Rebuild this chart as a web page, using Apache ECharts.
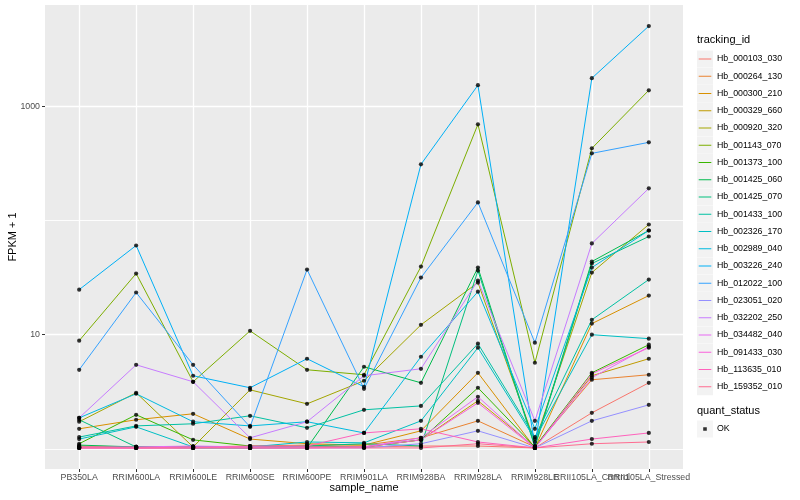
<!DOCTYPE html>
<html><head><meta charset="utf-8">
<script src="https://cdn.jsdelivr.net/npm/echarts@6/dist/echarts.min.js"></script>
<style>html,body{margin:0;padding:0;background:#fff}#c{width:800px;height:500px}</style>
</head><body><div id="c"></div>
<script>
// x categories (sample_name)
const categories = ['PB350LA','RRIM600LA','RRIM600LE','RRIM600SE','RRIM600PE','RRIM901LA','RRIM928BA','RRIM928LA','RRIM928LE','RRII105LA_Control','RRII105LA_Stressed'];
// legend entries (tracking_id)
const trackingIds = ['Hb_000103_030','Hb_000264_130','Hb_000300_210','Hb_000329_660','Hb_000920_320','Hb_001143_070','Hb_001373_100','Hb_001425_060','Hb_001425_070','Hb_001433_100','Hb_002326_170','Hb_002989_040','Hb_003226_240','Hb_012022_100','Hb_023051_020','Hb_032202_250','Hb_034482_040','Hb_091433_030','Hb_113635_010','Hb_159352_010'];
const colors = ['#F8766D','#EA8331','#D89000','#C09B00','#A3A500','#7CAE00','#39B600','#00BB4E','#00BF7D','#00C1A3','#00BFC4','#00BAE0','#00B0F6','#35A2FF','#9590FF','#C77CFF','#E76BF3','#FA62DB','#FF62BC','#FF6C91'];
// y tick labels (major breaks) and minor breaks
const yTickLabels = [10, 1000];
const yMinorBreaks = [1, 100];
// FPKM + 1 values, one array per tracking_id (order of categories)
const hb_000103_030 = [1.04,1.02,1.02,1.02,1.04,1.04,1.06,1.06,1.02,2.07,3.79];
const hb_000264_130 = [1.06,1.04,1.04,1.06,1.08,1.08,1.25,1.76,1.04,4.03,4.46];
const hb_000300_210 = [1.50,1.80,2.03,1.22,1.11,1.08,1.44,4.64,1.02,12.5,22.0];
const hb_000329_660 = [1.04,1.04,1.04,1.04,1.06,1.04,1.20,2.64,1.04,4.37,6.16];
const hb_000920_320 = [1.73,3.10,1.04,3.29,2.48,3.95,12.2,28.6,1.15,35.0,92.2];
const hb_001143_070 = [8.86,34.3,3.87,10.8,4.93,4.46,39.5,695,5.68,428,1380];
const hb_001373_100 = [1.11,1.99,1.20,1.06,1.04,1.04,1.20,3.43,1.04,4.64,8.17];
const hb_001425_060 = [1.08,1.04,1.04,1.02,1.02,5.24,3.79,38.7,1.06,43.7,81.7];
const hb_001425_070 = [1.80,1.04,1.02,1.02,1.06,1.11,1.06,36.4,1.04,42.0,72.4];
const hb_001433_100 = [1.27,1.59,1.66,1.95,1.53,2.20,2.38,8.34,1.27,13.5,30.4];
const hb_002326_170 = [1.22,1.56,1.04,1.04,1.15,1.13,1.76,7.69,1.22,10.0,9.23];
const hb_002989_040 = [1.87,3.04,1.73,1.59,1.73,1.38,6.41,23.8,1.50,38.7,81.7];
const hb_003226_240 = [24.8,60.4,4.37,3.43,6.16,3.50,310,1528,1.06,1760,5035];
const hb_012022_100 = [4.93,23.4,5.45,1.56,37.2,3.36,31.6,144,8.51,387,483];
const hb_023051_020 = [1.02,1.02,1.02,1.02,1.02,1.02,1.11,1.44,1.02,1.76,2.43];
const hb_032202_250 = [1.87,5.45,3.87,1.25,1.73,4.37,5.03,29.8,1.76,62.9,191];
const hb_034482_040 = [1.04,1.04,1.06,1.04,1.04,1.04,1.25,2.86,1.02,4.20,7.85];
const hb_091433_030 = [1.02,1.02,1.04,1.02,1.02,1.04,1.20,2.53,1.02,4.55,7.69];
const hb_113635_010 = [1.02,1.02,1.02,1.06,1.06,1.38,1.50,1.15,1.02,1.22,1.38];
const hb_159352_010 = [1.02,1.02,1.02,1.02,1.02,1.02,1.02,1.11,1.02,1.11,1.15];

const seriesValues = [hb_000103_030,hb_000264_130,hb_000300_210,hb_000329_660,hb_000920_320,hb_001143_070,hb_001373_100,hb_001425_060,hb_001425_070,hb_001433_100,hb_002326_170,hb_002989_040,hb_003226_240,hb_012022_100,hb_023051_020,hb_032202_250,hb_034482_040,hb_091433_030,hb_113635_010,hb_159352_010];

const FONT = '"Liberation Sans", Arial, Helvetica, sans-serif';
const lineIcon = 'path://M0,0h0.01v0.01h-0.01z M1.7,8h12.6v1.1h-12.6z M15.99,16.99h0.01v0.01h-0.01z';
const dotIcon = 'path://M0,0h0.01v0.01h-0.01z M6.2,6.7h3.6v3.6h-3.6z M15.99,16.99h0.01v0.01h-0.01z';
const catIdx = categories.map((c, i) => i);
const evenIdx = catIdx.filter(i => i % 2 === 0);
const oddIdx = catIdx.filter(i => i % 2 === 1);

const lineSeries = trackingIds.map((id, k) => ({
  name: id, type: 'line', xAxisIndex: 0, yAxisIndex: 0,
  data: seriesValues[k].map((v, i) => [i, v]),
  showSymbol: false, symbol: 'none', silent: true,
  color: colors[k],
  lineStyle: { color: colors[k], width: 1 },
  animation: false
}));
const pointData = [];
seriesValues.forEach(arr => arr.forEach((v, i) => pointData.push([i, v])));
const pointSeries = {
  name: 'OK', type: 'scatter', xAxisIndex: 1, yAxisIndex: 1, data: pointData, symbol: 'circle', symbolSize: 4.2,
  itemStyle: { color: '#000' }, silent: true, animation: false, z: 5
};

const legendCommon = {
  orient: 'vertical', left: 697, padding: 0, itemWidth: 16, itemHeight: 17, itemGap: 0.25,
  selectedMode: false, textStyle: { fontFamily: FONT, fontSize: 8.8, color: '#000', padding: [0,0,0,-1] }
};
const labelStyle = { fontFamily: FONT, fontSize: 8.8, color: '#4D4D4D' };
const catFormatter = v => categories[Math.round(v)];

const option = {
  animation: false,
  backgroundColor: '#fff',
  grid: { left: 45, right: 117, top: 5, bottom: 31, show: true, backgroundColor: '#EBEBEB', borderWidth: 0, containLabel: false, outerBoundsMode: 'none' },
  title: [
    { text: 'tracking_id', left: 697, top: 34, padding: 0, textStyle: { fontFamily: FONT, fontSize: 11, fontWeight: 'normal', color: '#000' } },
    { text: 'quant_status', left: 697, top: 405, padding: 0, textStyle: { fontFamily: FONT, fontSize: 11, fontWeight: 'normal', color: '#000' } }
  ],
  legend: [
    Object.assign({}, legendCommon, { top: 50.5, data: trackingIds, icon: 'rect', z: 3, itemStyle: { color: '#F2F2F2', borderWidth: 0 }, textStyle: Object.assign({}, legendCommon.textStyle, { color: 'rgba(0,0,0,0)' }) }),
    Object.assign({}, legendCommon, { top: 50.5, data: trackingIds, icon: lineIcon, z: 4, itemStyle: { borderWidth: 0 } }),
    Object.assign({}, legendCommon, { top: 420.5, data: ['OK'], icon: 'rect', z: 3, itemStyle: { color: '#F2F2F2', borderWidth: 0 }, textStyle: Object.assign({}, legendCommon.textStyle, { color: 'rgba(0,0,0,0)' }) }),
    Object.assign({}, legendCommon, { top: 420.5, data: ['OK'], icon: dotIcon, z: 4, itemStyle: { borderWidth: 0 } })
  ],
  xAxis: [
    {
      type: 'value', min: -0.6, max: 10.6, position: 'bottom',
      name: 'sample_name', nameLocation: 'middle', nameGap: 13, nameMoveOverlap: false,
      nameTextStyle: { fontFamily: FONT, fontSize: 11, color: '#000', verticalAlign: 'top' },
      axisLine: { show: false, onZero: false },
      axisTick: { show: true, customValues: catIdx, length: 3, lineStyle: { color: '#333', width: 1 } },
      axisLabel: Object.assign({ customValues: evenIdx, formatter: catFormatter, margin: 4, hideOverlap: false, showMinLabel: true, showMaxLabel: true }, labelStyle),
      splitLine: { show: true, lineStyle: { color: '#fff', width: 1.3 } }
    },
    {
      type: 'value', min: -0.6, max: 10.6, position: 'bottom',
      axisLine: { show: false, onZero: false },
      axisTick: { show: false, customValues: oddIdx },
      axisLabel: Object.assign({ customValues: oddIdx, formatter: catFormatter, margin: 4, hideOverlap: false, showMinLabel: true, showMaxLabel: true }, labelStyle),
      splitLine: { show: false }
    }
  ],
  yAxis: [
    {
      type: 'log', logBase: 10, min: 0.667, max: 7700, position: 'left',
      name: 'FPKM + 1', nameLocation: 'middle', nameGap: 26.5, nameRotate: 90, nameMoveOverlap: false,
      nameTextStyle: { fontFamily: FONT, fontSize: 11, color: '#000' },
      axisLine: { show: false, onZero: false },
      axisTick: { show: true, customValues: yTickLabels, length: 3, lineStyle: { color: '#333', width: 1 } },
      axisLabel: Object.assign({ customValues: yTickLabels, formatter: v => String(Math.round(v)), margin: 5, showMinLabel: true, showMaxLabel: true }, labelStyle),
      splitLine: { show: true, lineStyle: { color: '#fff', width: 1.3 } }
    },
    {
      type: 'log', logBase: 10, min: 0.667, max: 7700, position: 'left',
      axisLine: { show: false, onZero: false },
      axisTick: { show: false, customValues: yMinorBreaks },
      axisLabel: { show: false, customValues: yMinorBreaks },
      splitLine: { show: true, lineStyle: { color: '#fff', width: 0.9 } }
    }
  ],
  series: lineSeries.concat([pointSeries])
};

const chart = echarts.init(document.getElementById('c'), null, { renderer: 'canvas' });
chart.setOption(option);
</script>
</body></html>
